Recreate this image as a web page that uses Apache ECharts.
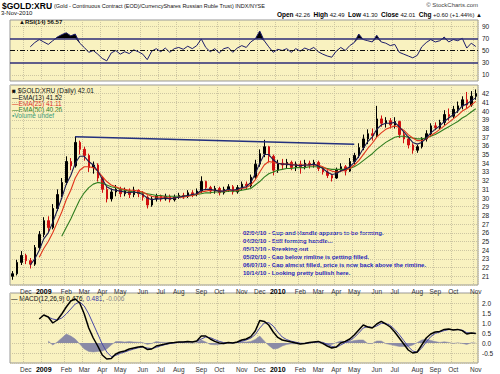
<!DOCTYPE html>
<html><head><meta charset="utf-8">
<script src="https://cdn.jsdelivr.net/npm/echarts@6/dist/echarts.min.js"></script>
<style>html,body{margin:0;padding:0;background:#fff;}#c{width:500px;height:374px;}</style>
</head><body><div id="c"></div>
<script>
// ---- categories: one per trading week (Wednesday of the week) ----
const weekCount = 104;
const weeks = [];
for (let i = 0; i < weekCount; i++) { weeks.push(new Date(Date.UTC(2008, 10, 12 + 7 * i)).toISOString().slice(0, 10)); }
const monthNames = ['Jan','Feb','Mar','Apr','May','Jun','Jul','Aug','Sep','Oct','Nov','Dec'];

// ---- weekly price bars ($GOLD:XRU) ----
const open = [21.0,21.3,22.6,23.4,22.8,22.4,24.3,25.8,27.4,26.6, 28.8,30.4,31.8,34.2,33.7,36.4,35.6,34.9,33.5,33.8, 32.3,31.0,29.9,30.7,31.0,30.5,30.8,30.4,30.9,30.5, 30.1,29.2,29.9,30.2,29.9,30.2,29.8,30.1,30.3,30.2, 30.6,30.4,30.8,31.9,31.2,30.8,31.1,30.6,31.0,31.3, 30.7,31.2,31.6,31.4,32.4,33.9,35.1,35.9,34.8,33.2, 34.0,33.8,34.1,33.5,33.9,33.6,34.0,33.8,34.1,33.4, 33.0,32.6,32.3,33.2,33.6,33.1,34.2,34.9,35.8,36.8, 37.4,37.2,39.1,38.6,38.9,38.4,38.8,37.3,36.8,36.1, 35.5,35.9,36.8,37.4,38.3,38.1,38.7,39.6,39.4,40.2, 40.6,41.3,40.7,41.7];
const close = [21.3,22.6,23.4,22.8,22.4,24.3,25.8,27.4,26.6,28.8, 30.4,31.8,34.2,33.7,36.4,35.6,34.9,33.5,33.8,32.3, 31.0,29.9,30.7,31.0,30.5,30.8,30.4,30.9,30.5,30.1, 29.2,29.9,30.2,29.9,30.2,29.8,30.1,30.3,30.2,30.6, 30.4,30.8,31.9,31.2,30.8,31.1,30.6,31.0,31.3,30.7, 31.2,31.6,31.4,32.4,33.9,35.1,35.9,34.8,33.2,34.0, 33.8,34.1,33.5,33.9,33.6,34.0,33.8,34.1,33.4,33.0, 32.6,32.3,33.2,33.6,33.1,34.2,34.9,35.8,36.8,37.4, 37.2,39.1,38.6,38.9,38.4,38.8,37.3,36.8,36.1,35.5, 35.9,36.8,37.4,38.3,38.1,38.7,39.6,39.4,40.2,40.6, 41.3,40.7,41.7,42.01];
const low = [20.6,21.1,22.3,22.4,21.9,22.2,24.0,25.5,26.1,26.4, 28.5,30.1,31.5,33.2,33.5,35.0,34.3,33.0,32.8,31.9, 30.6,29.5,29.6,30.2,30.1,30.2,30.0,30.1,30.1,29.7, 28.8,29.0,29.6,29.6,29.7,29.5,29.6,29.9,29.9,30.0, 30.1,30.2,30.6,30.9,30.5,30.5,30.3,30.4,30.7,30.4, 30.5,30.9,31.0,31.2,32.2,33.6,34.7,34.1,32.6,32.9, 33.3,33.4,33.2,33.1,32.8,33.3,33.4,33.5,33.1,32.7, 32.3,31.9,32.2,33.0,32.6,33.0,33.9,34.6,35.5,36.2, 36.6,37.0,38.2,38.1,38.0,38.0,36.9,36.3,35.7,35.1, 35.2,35.7,36.5,37.2,37.8,37.9,38.4,38.9,39.2,39.8, 40.2,40.3,40.5,41.3];
const high = [21.6,22.9,23.9,23.6,23.1,24.6,26.2,27.8,27.9,29.3, 31.0,32.3,34.8,34.6,37.1,36.6,35.9,35.1,34.2,34.0, 32.5,31.4,31.1,31.5,31.3,31.2,31.1,31.3,31.0,30.8, 30.3,30.2,30.5,30.4,30.5,30.4,30.4,30.6,30.6,30.9, 30.9,31.1,32.5,32.0,31.4,31.4,31.3,31.3,31.6,31.5, 31.5,31.9,31.9,32.7,34.4,35.6,36.7,36.0,35.0,34.4, 34.5,34.5,34.3,34.2,34.3,34.4,34.3,34.4,34.3,33.6, 33.2,32.8,33.5,34.0,33.8,34.6,35.2,36.3,37.3,37.9, 38.0,40.6,39.5,39.3,39.2,39.3,38.9,37.6,37.1,36.3, 36.1,37.0,37.8,38.6,38.7,39.0,40.1,40.3,40.6,41.1, 41.7,42.2,42.3,42.49];

// ---- moving averages ----
const ema13 = [null,null,null,null,22.3,23.0,24.0,25.3,26.0,27.2, 28.6,30.0,31.6,32.6,34.0,34.8,34.8,34.2,33.8,33.1, 32.2,31.3,31.0,30.9,30.8,30.7,30.6,30.7,30.6,30.4, 30.0,29.8,29.9,29.9,30.0,29.9,30.0,30.1,30.2,30.3, 30.4,30.5,30.9,31.0,31.0,30.9,30.8,30.8,31.0,30.9, 31.0,31.2,31.3,31.8,32.8,34.0,35.0,35.0,34.4,34.0, 33.9,33.9,33.8,33.8,33.7,33.8,33.8,33.9,33.7,33.4, 33.0,32.7,32.8,33.1,33.3,33.6,34.1,34.8,35.7,36.5, 37.0,37.9,38.4,38.6,38.6,38.7,38.2,37.6,37.0,36.4, 36.2,36.4,36.9,37.5,37.9,38.3,38.8,39.2,39.6,40.0, 40.6,40.8,41.2,41.52];
const ema25 = [null,null,null,null,null,null,23.2,24.2,25.0,26.0, 27.2,28.4,29.8,30.9,32.3,33.2,33.6,33.6,33.5,33.1, 32.5,31.9,31.5,31.3,31.1,31.0,30.9,30.9,30.8,30.7, 30.4,30.2,30.1,30.1,30.1,30.0,30.0,30.1,30.1,30.2, 30.3,30.4,30.7,30.8,30.9,30.9,30.8,30.8,30.9,30.9, 30.9,31.1,31.2,31.5,32.1,33.0,33.8,34.2,34.1,34.0, 33.9,33.9,33.9,33.8,33.8,33.8,33.8,33.8,33.8,33.6, 33.3,33.1,33.0,33.1,33.2,33.4,33.8,34.3,35.0,35.7, 36.3,37.0,37.5,37.9,38.1,38.3,38.1,37.8,37.3,36.9, 36.6,36.6,36.8,37.2,37.5,37.9,38.3,38.7,39.1,39.5, 40.0,40.3,40.7,41.11];
const ema50 = [null,null,null,null,null,null,null,null,null,null, null,25.6,26.6,27.6,28.7,29.8,30.6,31.2,31.6,31.8, 31.7,31.5,31.3,31.2,31.0,30.9,30.8,30.7,30.6,30.6, 30.5,30.4,30.3,30.3,30.2,30.2,30.2,30.2,30.2,30.3, 30.3,30.4,30.5,30.6,30.6,30.7,30.7,30.7,30.8,30.8, 30.8,30.9,31.0,31.1,31.5,31.9,32.4,32.8,33.0,33.2, 33.3,33.4,33.4,33.5,33.5,33.5,33.6,33.6,33.6,33.5, 33.4,33.3,33.3,33.3,33.3,33.4,33.6,33.9,34.3,34.7, 35.1,35.6,36.0,36.4,36.7,37.0,37.1,37.1,37.0,36.9, 36.8,36.8,36.9,37.1,37.3,37.6,37.9,38.2,38.5,38.8, 39.2,39.5,39.9,40.26];

// ---- rimline (cup and handle) ----
const rimDates = ['2009-02-18', '2010-04-28'];
const rimValues = [37.05, 36.2];

// ---- RSI(14) ----
const rsi = [null,null,null,null,56,63,68,64,60,66, 72,76,79,74,77,62,55,47,50,44, 37,33,46,50,44,48,45,51,48,44, 35,49,53,48,54,47,53,55,52,57, 53,58,69,55,48,53,46,53,55,47, 54,58,55,64,69,82,66,56,47,52, 50,53,47,53,49,54,51,55,48,44, 41,39,49,55,50,58,63,77,68,66, 64,75,64,62,58,60,47,44,41,38, 42,56,63,68,64,66,72,64,68,66, 70,54,62,56.57];
const rsiTicks = [10, 30, 50, 70, 90];

// ---- MACD(12,26,9) ----
const macd = [null,null,null,null,null,null,1.20,1.40,1.30,1.00, 1.15,1.45,1.80,2.10,2.20,2.00,1.45,0.75,0.25,-0.15, -0.60,-0.80,-0.78,-0.55,-0.45,-0.40,-0.30,-0.25,-0.20,-0.18, -0.32,-0.30,-0.15,-0.10,-0.05,0.00,0.02,0.05,0.05,0.08, 0.05,0.10,0.35,0.35,0.20,0.08,0.00,-0.02,0.02,0.00, 0.05,0.15,0.20,0.32,0.60,1.12,1.08,0.90,0.55,0.28, 0.15,0.10,0.05,0.00,-0.05,-0.02,0.02,0.05,0.08,-0.02, -0.15,-0.25,-0.20,0.00,0.08,0.20,0.40,0.65,0.90,0.80, 0.75,0.95,1.08,0.95,0.80,0.55,0.25,-0.05,-0.35,-0.50, -0.45,-0.10,0.25,0.45,0.55,0.58,0.68,0.70,0.65,0.68, 0.62,0.45,0.50,0.476];
const signal = [null,null,null,null,null,null,null,null,1.30,1.20, 1.15,1.25,1.45,1.70,1.95,2.05,1.85,1.45,0.95,0.45, -0.05,-0.45,-0.68,-0.62,-0.52,-0.45,-0.37,-0.30,-0.24,-0.20, -0.25,-0.28,-0.22,-0.14,-0.08,-0.03,0.00,0.03,0.04,0.06, 0.06,0.08,0.20,0.30,0.27,0.17,0.08,0.02,0.01,0.01, 0.03,0.09,0.15,0.24,0.42,0.75,1.00,1.02,0.85,0.55, 0.30,0.17,0.09,0.04,-0.01,-0.02,0.00,0.03,0.06,0.03, -0.06,-0.17,-0.22,-0.10,0.02,0.12,0.28,0.50,0.75,0.82, 0.78,0.85,0.98,0.98,0.88,0.68,0.42,0.12,-0.18,-0.40, -0.47,-0.25,0.05,0.32,0.48,0.55,0.62,0.67,0.67,0.67, 0.64,0.52,0.49,0.481];
const histogram = [null,null,null,null,null,null,null,null,0.10,-0.10, 0.05,0.25,0.45,0.35,0.20,-0.05,-0.30,-0.42,-0.45,-0.42, -0.40,-0.30,-0.10,0.07,0.07,0.05,0.07,0.05,0.04,0.02, -0.07,-0.02,0.07,0.04,0.03,0.03,0.02,0.02,0.01,0.02, -0.01,0.02,0.15,0.05,-0.07,-0.09,-0.08,-0.04,0.01,-0.01, 0.02,0.06,0.05,0.08,0.18,0.35,0.10,-0.12,-0.30,-0.27, -0.15,-0.07,-0.04,-0.04,-0.04,0.00,0.02,0.02,0.02,-0.05, -0.09,-0.08,0.02,0.10,0.06,0.08,0.12,0.15,0.15,-0.02, -0.03,0.10,0.10,-0.03,-0.08,-0.13,-0.17,-0.17,-0.17,-0.10, 0.02,0.15,0.20,0.13,0.07,0.03,0.06,0.03,-0.02,0.01, -0.02,-0.07,0.01,-0.006];

// ---- annotation notes ----
const notes = [
  '02/04/10 - Cup and Handle appears to be forming.',
  '04/29/10 - Still forming handle...',
  '05/13/10 - Breaking out',
  '05/20/10 - Gap below rimline is getting filled.',
  '06/07/10 - Gap almost filled, price is now back above the rimline.',
  '10/14/10 - Looking pretty bullish here.'
];

// month tick labels at the week containing the 1st of each month
const monthLabelAt = weeks.map(w => {
  const t = new Date(w + 'T00:00:00Z').getTime();
  const a = new Date(t - 3 * 864e5), b = new Date(t + 3 * 864e5);
  let d = null;
  if (a.getUTCDate() === 1) d = a;
  else if (a.getUTCMonth() !== b.getUTCMonth()) d = b;
  if (!d) return '';
  return d.getUTCMonth() === 0 ? '{y|' + d.getUTCFullYear() + '}' : monthNames[d.getUTCMonth()];
});
const isMonth = (i) => monthLabelAt[i] !== '';

const FONT = '"Liberation Sans", Arial, sans-serif';
const PANEL_BG = '#F9F2C0';
const GRID_LINE = { color: '#cdc6a2', type: 'dotted', width: 1 };

function makeX(gi, show) {
  return {
    type: 'category', gridIndex: gi, data: weeks, boundaryGap: true,
    axisLine: { show: false }, axisTick: { show: false },
    axisLabel: {
      show: show, interval: (i) => isMonth(i), formatter: (v, i) => monthLabelAt[i],
      margin: 3, fontSize: 6.5, color: '#333', fontFamily: FONT,
      rich: { y: { fontWeight: 'bold', color: '#000', fontSize: 7, fontFamily: FONT } }
    },
    splitLine: { show: true, interval: (i) => isMonth(i), lineStyle: GRID_LINE }
  };
}
const yLabel = { fontSize: 6.5, color: '#222', fontFamily: FONT, margin: 4 };

const rsiBase = rsi.map(v => v == null ? null : Math.min(v, 70));
const rsiOver = rsi.map(v => v == null ? null : Math.max(v - 70, 0));

const option = {
  animation: false,
  backgroundColor: '#ffffff',
  grid: [
    { left: 10, right: 22, top: 20, height: 61, show: true, backgroundColor: PANEL_BG, borderColor: '#999', borderWidth: 1 },
    { left: 10, right: 22, top: 85, height: 200, show: true, backgroundColor: PANEL_BG, borderColor: '#999', borderWidth: 1 },
    { left: 10, right: 22, top: 293, height: 70, show: true, backgroundColor: PANEL_BG, borderColor: '#999', borderWidth: 1 }
  ],
  xAxis: [makeX(0, false), makeX(1, true), makeX(2, true)],
  yAxis: [
    { type: 'value', gridIndex: 0, min: 0, max: 100, interval: 10, position: 'right',
      axisLine: { show: false }, axisTick: { show: false }, splitLine: { show: false },
      axisLabel: Object.assign({}, yLabel, { formatter: v => rsiTicks.includes(v) ? String(v) : '' }) },
    { type: 'value', gridIndex: 1, min: 20, max: 43, interval: 1, position: 'right',
      axisLine: { show: false }, axisTick: { show: false }, splitLine: { show: true, lineStyle: GRID_LINE },
      axisLabel: Object.assign({}, yLabel, { formatter: v => (v >= 21 && v <= 42) ? String(v) : '' }) },
    { type: 'value', gridIndex: 2, min: -1, max: 2.5, interval: 0.5, position: 'right',
      axisLine: { show: false }, axisTick: { show: false }, splitLine: { show: true, lineStyle: GRID_LINE },
      axisLabel: Object.assign({}, yLabel, { formatter: v => { const r = Math.round(v * 10) / 10; return (r >= -0.5 && r <= 2.0) ? r.toFixed(1) : ''; } }) }
  ],
  series: [
    // RSI panel
    { type: 'line', xAxisIndex: 0, yAxisIndex: 0, data: rsiBase, stack: 'ob', symbol: 'none', silent: true,
      lineStyle: { opacity: 0 } },
    { type: 'line', xAxisIndex: 0, yAxisIndex: 0, data: rsiOver, stack: 'ob', symbol: 'none', silent: true,
      lineStyle: { opacity: 0 }, areaStyle: { color: '#000', opacity: 1 } },
    { type: 'line', xAxisIndex: 0, yAxisIndex: 0, data: rsi, symbol: 'none', silent: true,
      lineStyle: { color: '#1c1c6a', width: 1 },
      markLine: { silent: true, symbol: 'none', label: { show: false },
        data: [
          { yAxis: 10, lineStyle: GRID_LINE },
          { yAxis: 90, lineStyle: GRID_LINE },
          { yAxis: 70, lineStyle: { color: '#2d2d78', width: 1.5, type: 'solid' } },
          { yAxis: 30, lineStyle: { color: '#2d2d78', width: 1.5, type: 'solid' } },
          { yAxis: 50, lineStyle: { color: '#111', width: 1, type: [5, 2, 1, 2] } }
        ] } },
    // price panel
    { type: 'candlestick', xAxisIndex: 1, yAxisIndex: 1, barWidth: 2, silent: true,
      data: weeks.map((w, i) => [open[i], close[i], low[i], high[i]]),
      itemStyle: { color: '#000', color0: '#d01010', borderColor: '#000', borderColor0: '#d01010', borderWidth: 1 } },
    { type: 'line', xAxisIndex: 1, yAxisIndex: 1, data: ema50, symbol: 'none', silent: true, lineStyle: { color: '#2f7d1f', width: 1.1 } },
    { type: 'line', xAxisIndex: 1, yAxisIndex: 1, data: ema25, symbol: 'none', silent: true, lineStyle: { color: '#e0361c', width: 1.1 } },
    { type: 'line', xAxisIndex: 1, yAxisIndex: 1, data: ema13, symbol: 'none', silent: true, lineStyle: { color: '#1c1c50', width: 1.1 } },
    { type: 'line', xAxisIndex: 1, yAxisIndex: 1, data: rimDates.map((d, i) => [d, rimValues[i]]), symbol: 'none', silent: true,
      lineStyle: { color: '#23307e', width: 1.5 } },
    // MACD panel
    { type: 'line', xAxisIndex: 2, yAxisIndex: 2, data: histogram, symbol: 'none', silent: true,
      lineStyle: { color: '#8a8aa6', width: 0.5 }, areaStyle: { color: '#8a8aa6', opacity: 1 } },
    { type: 'line', xAxisIndex: 2, yAxisIndex: 2, data: signal, symbol: 'none', silent: true, lineStyle: { color: '#4a4aa8', width: 1 } },
    { type: 'line', xAxisIndex: 2, yAxisIndex: 2, data: macd, symbol: 'none', silent: true, lineStyle: { color: '#000', width: 1.5 } }
  ],
  graphic: [
    { type: 'text', left: 2, top: 1, style: { text: '$GOLD:XRU', font: 'bold 8.5px ' + FONT, fill: '#000' } },
    { type: 'text', left: 54, top: 2.5, style: { text: '(Gold - Continuous Contract (EOD)/CurrencyShares Russian Ruble Trust) INDX/NYSE', font: '5.5px ' + FONT, fill: '#111' } },
    { type: 'text', left: 1, top: 10, style: { text: '3-Nov-2010', font: '6px ' + FONT, fill: '#111' } },
    { type: 'text', right: 22, top: 2, style: { text: '© StockCharts.com', font: '6px ' + FONT, fill: '#444' } },
    { type: 'text', right: 18, top: 11, style: {
        text: '{b|Open} 42.26  {b|High} 42.49  {b|Low} 41.30  {b|Close} 42.01  {b|Chg} +0.60 (+1.44%) ▲',
        font: '6px ' + FONT, fill: '#111',
        rich: { b: { fontWeight: 'bold', fontSize: 6.5, fontFamily: FONT, fill: '#000' } } } },
    { type: 'text', left: 19, top: 18.5, style: { text: '▲RSI(14) 56.57', font: 'bold 6px ' + FONT, fill: '#111' } },
    { type: 'text', left: 12, top: 87, style: { text: '■ $GOLD:XRU (Daily) 42.01', font: '6.5px ' + FONT, fill: '#111' } },
    { type: 'text', left: 12, top: 93.5, style: { text: '—EMA(13) 41.52', font: '6.5px ' + FONT, fill: '#111' } },
    { type: 'text', left: 12, top: 99.5, style: { text: '—EMA(25) 41.11', font: '6.5px ' + FONT, fill: '#d8301c' } },
    { type: 'text', left: 12, top: 105.5, style: { text: '—EMA(50) 40.26', font: '6.5px ' + FONT, fill: '#2f7d1f' } },
    { type: 'text', left: 12, top: 111.5, style: { text: '▪Volume undef', font: '6.5px ' + FONT, fill: '#3a9a7a' } },
    { type: 'text', left: 11, top: 295, style: {
        text: '— MACD(12,26,9) {k|0.476}, {b|0.481}, {g|-0.006}', font: '6.5px ' + FONT, fill: '#111',
        rich: { k: { fill: '#000', fontSize: 6.5, fontFamily: FONT }, b: { fill: '#3a3aa8', fontSize: 6.5, fontFamily: FONT }, g: { fill: '#888', fontSize: 6.5, fontFamily: FONT } } } },
    { type: 'text', left: 243, top: 229.5, style: { text: notes.join('\n'), font: 'bold 6px ' + FONT, fill: '#2424b8', lineHeight: 7.9 } }
  ]
};
const chart = echarts.init(document.getElementById('c'), null, { renderer: 'svg', width: 500, height: 374 });
chart.setOption(option);
</script>
</body></html>
